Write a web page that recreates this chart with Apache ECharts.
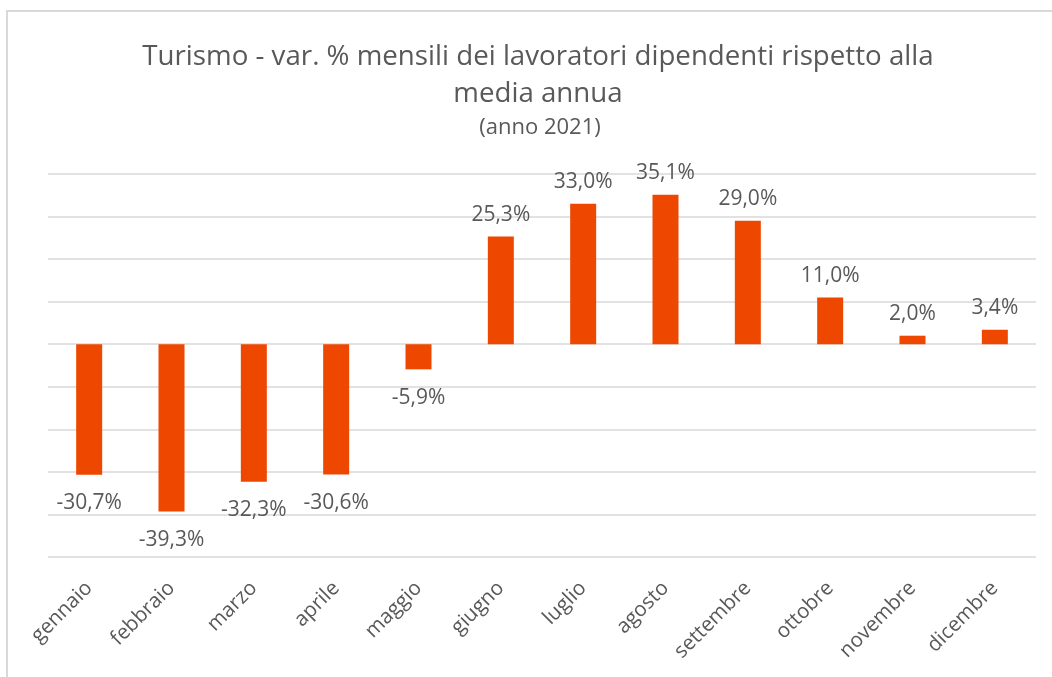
<!DOCTYPE html>
<html>
<head>
<meta charset="utf-8">
<script src="https://cdn.jsdelivr.net/npm/echarts@6/dist/echarts.min.js"></script>
<style>
html,body{margin:0;padding:0;background:#fff;}
#chart{width:1052px;height:677px;}
</style>
</head>
<body>
<div id="chart"></div>
<script>
const titleText = "Turismo - var. % mensili dei lavoratori dipendenti rispetto alla\nmedia annua";
const subtitleText = "(anno 2021)";
const categories = ["gennaio","febbraio","marzo","aprile","maggio","giugno","luglio","agosto","settembre","ottobre","novembre","dicembre"];
const values = [-30.7,-39.3,-32.3,-30.6,-5.9,25.3,33.0,35.1,29.0,11.0,2.0,3.4];
const yMin = -50, yMax = 40, yInterval = 10;

const FONT = "Open Sans";
const TXT = "#595959";

const seriesData = values.map(v => ({
  value: v,
  label: { position: v < 0 ? 'bottom' : 'top', distance: v < 0 ? 18 : 11 }
}));

const chart = echarts.init(document.getElementById('chart'), null, {renderer:'canvas'});
chart.setOption({
  animation: false,
  backgroundColor: '#fff',
  graphic: [{
    type: 'rect', silent: true, z: -1,
    shape: { x: 7, y: 11, width: 1200, height: 800 },
    style: { fill: 'none', stroke: '#d9d9d9', lineWidth: 2 }
  }],
  title: [{
    text: titleText,
    left: 533, top: 34, textAlign: 'center',
    textStyle: { fontFamily: FONT, fontSize: 27.7, fontWeight: 'normal', color: TXT, lineHeight: 37 }
  },{
    text: subtitleText,
    left: 535, top: 112, textAlign: 'center',
    textStyle: { fontFamily: FONT, fontSize: 22, fontWeight: 'normal', color: TXT }
  }],
  grid: { left: 48, right: 16, top: 174, bottom: 120, containLabel: false },
  xAxis: {
    type: 'category', data: categories,
    axisLine: { show: false, onZero: false },
    axisTick: { show: false },
    axisLabel: { rotate: 45, margin: 28, fontFamily: FONT, fontSize: 20.5, color: TXT, interval: 0 }
  },
  yAxis: {
    type: 'value', min: yMin, max: yMax, interval: yInterval,
    axisLabel: { show: false }, axisLine: { show: false }, axisTick: { show: false },
    splitLine: { lineStyle: { color: '#d9d9d9', width: 1.5 } }
  },
  series: [{
    type: 'bar', data: seriesData, barWidth: 26,
    itemStyle: { color: '#EE4700' },
    label: {
      show: true, fontFamily: FONT, fontSize: 21, color: TXT,
      formatter: p => p.value.toFixed(1).replace('.', ',') + '%'
    }
  }]
});
</script>
</body>
</html>
